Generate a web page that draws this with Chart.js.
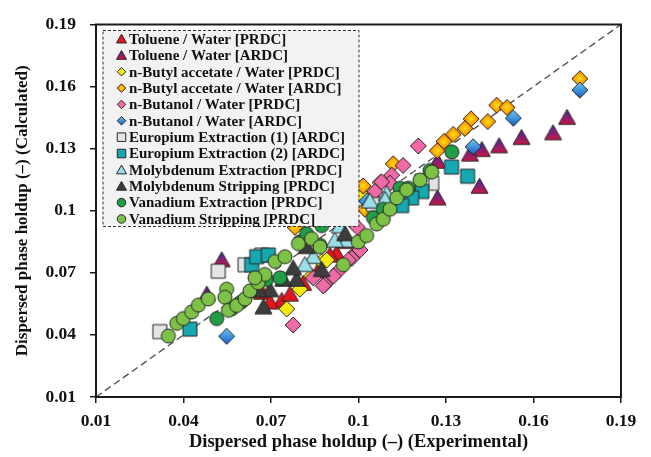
<!DOCTYPE html>
<html>
<head>
<meta charset="utf-8">
<script src="https://cdn.jsdelivr.net/npm/chart.js@4.4.1/dist/chart.umd.min.js"></script>
<style>
  html, body { margin: 0; padding: 0; background: #fff; }
  #wrap { width: 651px; height: 457px; }
</style>
</head>
<body>
<div id="wrap"><canvas id="holdup"></canvas></div>
<script>
// dispersed phase holdup: experimental (x) vs calculated (y)
const seriesNames = [
  'Toluene / Water [PRDC]',
  'Toluene / Water [ARDC]',
  'n-Butyl accetate / Water [PRDC]',
  'n-Butyl accetate / Water [ARDC]',
  'n-Butanol / Water [PRDC]',
  'n-Butanol / Water [ARDC]',
  'Europium Extraction (1) [ARDC]',
  'Europium Extraction (2) [ARDC]',
  'Molybdenum Extraction [PRDC]',
  'Molybdenum Stripping [PRDC]',
  'Vanadium Extraction [PRDC]',
  'Vanadium Stripping [PRDC]'
];

const toluenePrdcX = [0.0737, 0.0925, 0.0902, 0.0810, 0.0765, 0.0669, 0.0861, 0.0957, 0.0697];
const toluenePrdcY = [0.0566, 0.0794, 0.0785, 0.0648, 0.0596, 0.0605, 0.0709, 0.0851, 0.0558];

const tolueneArdcX = [0.1715, 0.1667, 0.1559, 0.1482, 0.1423, 0.1382, 0.1415, 0.1271, 0.1271, 0.0531, 0.0480];
const tolueneArdcY = [0.1450, 0.1376, 0.1353, 0.1313, 0.1295, 0.1273, 0.1117, 0.1061, 0.1238, 0.0762, 0.0596];

const butylPrdcX = [0.0754, 0.0799, 0.0839, 0.0874, 0.0891, 0.1011, 0.1074, 0.0964];
const butylPrdcY = [0.0526, 0.0621, 0.0684, 0.0755, 0.0762, 0.1077, 0.1136, 0.1030];

const butylArdcX = [0.1759, 0.1474, 0.1509, 0.1386, 0.1443, 0.1365, 0.1325, 0.1293, 0.1270, 0.1119, 0.1016, 0.0782, 0.1022];
const butylArdcY = [0.1638, 0.1510, 0.1499, 0.1444, 0.1431, 0.1398, 0.1369, 0.1335, 0.1290, 0.1227, 0.1120, 0.0920, 0.1007];

const butanolPrdcX = [0.1205, 0.1153, 0.1114, 0.1108, 0.1079, 0.1056, 0.0996, 0.0988, 0.1005, 0.0977, 0.0965, 0.0931, 0.0914, 0.0885, 0.0879, 0.0845, 0.0776];
const butanolPrdcY = [0.1313, 0.1219, 0.1172, 0.1133, 0.1140, 0.1093, 0.0920, 0.0794, 0.0810, 0.0770, 0.0762, 0.0708, 0.0684, 0.0644, 0.0637, 0.0676, 0.0448];

const butanolArdcX = [0.1759, 0.1531, 0.1393, 0.1028, 0.0548];
const butanolArdcY = [0.1583, 0.1447, 0.1309, 0.1046, 0.0393];

const europium1X = [0.0319, 0.0519, 0.0611, 0.0668, 0.1251, 0.1051, 0.1217];
const europium1Y = [0.0416, 0.0708, 0.0739, 0.0786, 0.1133, 0.1030, 0.1143];

const europium2X = [0.0422, 0.0634, 0.0651, 0.0691, 0.1319, 0.1374, 0.1217, 0.1182, 0.1148];
const europium2Y = [0.0428, 0.0739, 0.0778, 0.0786, 0.1211, 0.1167, 0.1093, 0.1062, 0.1025];

const moExtractionX = [0.1097, 0.1091, 0.1039, 0.0959, 0.0919, 0.0845, 0.0816, 0.0936];
const moExtractionY = [0.1082, 0.1054, 0.1046, 0.0857, 0.0857, 0.0778, 0.0739, 0.0926];

const moStrippingX = [0.0954, 0.0874, 0.0822, 0.0788, 0.0776, 0.0742, 0.0697, 0.0656, 0.0674];
const moStrippingY = [0.0888, 0.0715, 0.0826, 0.0668, 0.0723, 0.0668, 0.0617, 0.0615, 0.0534];

const vExtractionX = [0.0514, 0.0565, 0.0597, 0.0685, 0.0731, 0.0799, 0.0822, 0.0868, 0.0874, 0.1051, 0.1085, 0.1142, 0.1171, 0.1245, 0.1320];
const vExtractionY = [0.0479, 0.0526, 0.0558, 0.0668, 0.0676, 0.0849, 0.0888, 0.0833, 0.0928, 0.0967, 0.1007, 0.1109, 0.1109, 0.1195, 0.1284];

const vStrippingX = [0.0348, 0.0377, 0.0399, 0.0428, 0.0451, 0.0485, 0.0548, 0.0542, 0.0554, 0.0582, 0.0611, 0.0628, 0.0656, 0.0679, 0.0645,
  0.0714, 0.0748, 0.0794, 0.0839, 0.0868, 0.0948, 0.0999, 0.1028, 0.1062, 0.1085, 0.1108, 0.1131, 0.1165, 0.1211, 0.1251];
const vStrippingY = [0.0395, 0.0456, 0.0479, 0.0511, 0.0544, 0.0574, 0.0621, 0.0582, 0.0519, 0.0542, 0.0574, 0.0613, 0.0652, 0.0692, 0.0676,
  0.0755, 0.0778, 0.0841, 0.0865, 0.0826, 0.0739, 0.0849, 0.0880, 0.0936, 0.0959, 0.1007, 0.1062, 0.1101, 0.1148, 0.1187];

const tickValues = [0.01, 0.04, 0.07, 0.10, 0.13, 0.16, 0.19];
const tickLabels = ['0.01', '0.04', '0.07', '0.1', '0.13', '0.16', '0.19'];

const seriesX = [toluenePrdcX, tolueneArdcX, butylPrdcX, butylArdcX, butanolPrdcX, butanolArdcX,
  europium1X, europium2X, moExtractionX, moStrippingX, vExtractionX, vStrippingX];
const seriesY = [toluenePrdcY, tolueneArdcY, butylPrdcY, butylArdcY, butanolPrdcY, butanolArdcY,
  europium1Y, europium2Y, moExtractionY, moStrippingY, vExtractionY, vStrippingY];

// marker look per series
const markerStyles = [
  { shape: 'triangle', fill: '#e3161d' },
  { shape: 'triangle', fill: { type: 'linear', stops: ['#3b2c92', '#8a1f72', '#d8153a'] } },
  { shape: 'diamond', fill: '#f7ea12' },
  { shape: 'diamond', fill: { type: 'radial', stops: ['#ffe11a', '#ffb000', '#ff8200'] } },
  { shape: 'diamond', fill: '#ef6aa6' },
  { shape: 'diamond', fill: { type: 'linear', stops: ['#72c9f5', '#3f93dc', '#1d5cb3'] } },
  { shape: 'square', fill: '#e4e4e4' },
  { shape: 'square', fill: '#16a7b1' },
  { shape: 'triangle', fill: '#98dfe8' },
  { shape: 'triangle', fill: '#3d3d3d' },
  { shape: 'circle', fill: '#1f9e45' },
  { shape: 'circle', fill: '#7dc247' }
];
const markerSizes = { triangle: 17, diamond: 16, square: 14, circle: 14 };

function tracePath(ctx, shape, c, s) {
  ctx.beginPath();
  if (shape === 'circle') {
    ctx.arc(c, c, s / 2, 0, Math.PI * 2);
  } else if (shape === 'square') {
    ctx.rect(c - s / 2, c - s / 2, s, s);
  } else if (shape === 'diamond') {
    ctx.moveTo(c, c - s / 2);
    ctx.lineTo(c + s / 2, c);
    ctx.lineTo(c, c + s / 2);
    ctx.lineTo(c - s / 2, c);
    ctx.closePath();
  } else {
    const h = s * 0.88;
    ctx.moveTo(c, c - h * 0.55);
    ctx.lineTo(c + s / 2, c + h * 0.45);
    ctx.lineTo(c - s / 2, c + h * 0.45);
    ctx.closePath();
  }
}

function fillFor(ctx, fill, c, s) {
  if (typeof fill === 'string') return fill;
  let g;
  if (fill.type === 'radial') {
    g = ctx.createRadialGradient(c, c, 0, c, c, s / 2);
  } else {
    g = ctx.createLinearGradient(c, c - s / 2, c, c + s / 2);
  }
  fill.stops.forEach((col, i) => g.addColorStop(i / (fill.stops.length - 1), col));
  return g;
}

function drawMarker(ctx, style, c, s) {
  tracePath(ctx, style.shape, c, s);
  ctx.fillStyle = fillFor(ctx, style.fill, c, s);
  ctx.fill();
  ctx.lineWidth = 1;
  ctx.strokeStyle = '#262626';
  ctx.stroke();
}

function markerImage(style, s) {
  const dim = Math.ceil(s + 4);
  const cv = document.createElement('canvas');
  cv.width = dim;
  cv.height = dim;
  drawMarker(cv.getContext('2d'), style, dim / 2, s);
  return cv;
}

const datasets = seriesNames.map((name, i) => ({
  type: 'scatter',
  label: name,
  data: seriesX[i].map((x, j) => ({ x: x, y: seriesY[i][j] })),
  pointStyle: markerImage(markerStyles[i], markerSizes[markerStyles[i].shape]),
  pointRadius: 8,
  pointHoverRadius: 8,
  order: seriesNames.length - i
}));

// 1:1 parity line
datasets.push({
  type: 'line',
  label: 'parity',
  data: [{ x: tickValues[0], y: tickValues[0] }, { x: tickValues[6], y: tickValues[6] }],
  borderColor: '#4a4a4a',
  borderWidth: 1.3,
  borderDash: [7, 4],
  pointRadius: 0,
  order: 99
});

const frame = {
  id: 'frame',
  afterDatasetsDraw(chart) {
    const a = chart.chartArea;
    const ctx = chart.ctx;
    ctx.save();
    ctx.strokeStyle = '#1a1a1a';
    ctx.lineWidth = 2;
    ctx.strokeRect(a.left, a.top, a.right - a.left, a.bottom - a.top);
    ctx.restore();
  }
};

const boxLegend = {
  id: 'boxLegend',
  afterDatasetsDraw(chart) {
    const a = chart.chartArea;
    const ctx = chart.ctx;
    const left = a.left + 6.5, top = a.top + 5.5, w = 256, h = 196;
    ctx.save();
    ctx.fillStyle = '#f2f2f2';
    ctx.fillRect(left, top, w, h);
    ctx.setLineDash([3, 2]);
    ctx.strokeStyle = '#333';
    ctx.lineWidth = 1;
    ctx.strokeRect(left + 0.5, top + 0.5, w, h);
    ctx.setLineDash([]);
    ctx.font = 'bold 15px "Liberation Serif"';
    ctx.textBaseline = 'middle';
    ctx.fillStyle = '#111';
    seriesNames.forEach((name, i) => {
      const y = top + 9 + i * 16.36;
      ctx.save();
      ctx.translate(left + 19 - 6, y - 6);
      drawMarker(ctx, markerStyles[i], 6, markerStyles[i].shape === 'triangle' ? 10 : 8.5);
      ctx.restore();
      ctx.fillStyle = '#111';
      ctx.fillText(name, left + 26.5, y + 1);
    });
    ctx.restore();
  }
};

const tickFont = { family: 'Liberation Serif', size: 17.5, weight: 'bold' };
const titleFont = { family: 'Liberation Serif', size: 18.5, weight: 'bold' };

new Chart(document.getElementById('holdup'), {
  data: { datasets: datasets },
  options: {
    responsive: true,
    maintainAspectRatio: false,
    animation: false,
    events: [],
    layout: { padding: { top: 16, right: 30, left: 0, bottom: 0 } },
    plugins: { legend: { display: false }, tooltip: { enabled: false } },
    scales: {
      x: {
        type: 'linear',
        min: tickValues[0],
        max: tickValues[tickValues.length - 1],
        afterBuildTicks: s => { s.ticks = tickValues.map(v => ({ value: v })); },
        afterFit: s => { s.height = 60; },
        border: { display: false },
        grid: { drawOnChartArea: false, drawTicks: true, tickLength: 6, color: '#1a1a1a', lineWidth: 1.5 },
        ticks: { color: '#111', font: tickFont, padding: 8, maxRotation: 0, callback: (v, i) => tickLabels[i] },
        title: { display: true, text: 'Dispersed phase holdup (–) (Experimental)', color: '#111', font: titleFont, padding: { top: 0, bottom: 4 } }
      },
      y: {
        type: 'linear',
        min: tickValues[0],
        max: tickValues[tickValues.length - 1],
        afterBuildTicks: s => { s.ticks = tickValues.map(v => ({ value: v })); },
        afterFit: s => { s.width = 96; },
        border: { display: false },
        grid: { drawOnChartArea: false, drawTicks: true, tickLength: 6, color: '#1a1a1a', lineWidth: 1.5 },
        ticks: { color: '#111', font: tickFont, padding: 14, callback: (v, i) => tickLabels[i] },
        title: { display: true, text: 'Dispersed phase holdup (–) (Calculated)', color: '#111', font: { family: 'Liberation Serif', size: 17, weight: 'bold' }, padding: { top: 12, bottom: 0 } }
      }
    }
  },
  plugins: [frame, boxLegend]
});
</script>
</body>
</html>
